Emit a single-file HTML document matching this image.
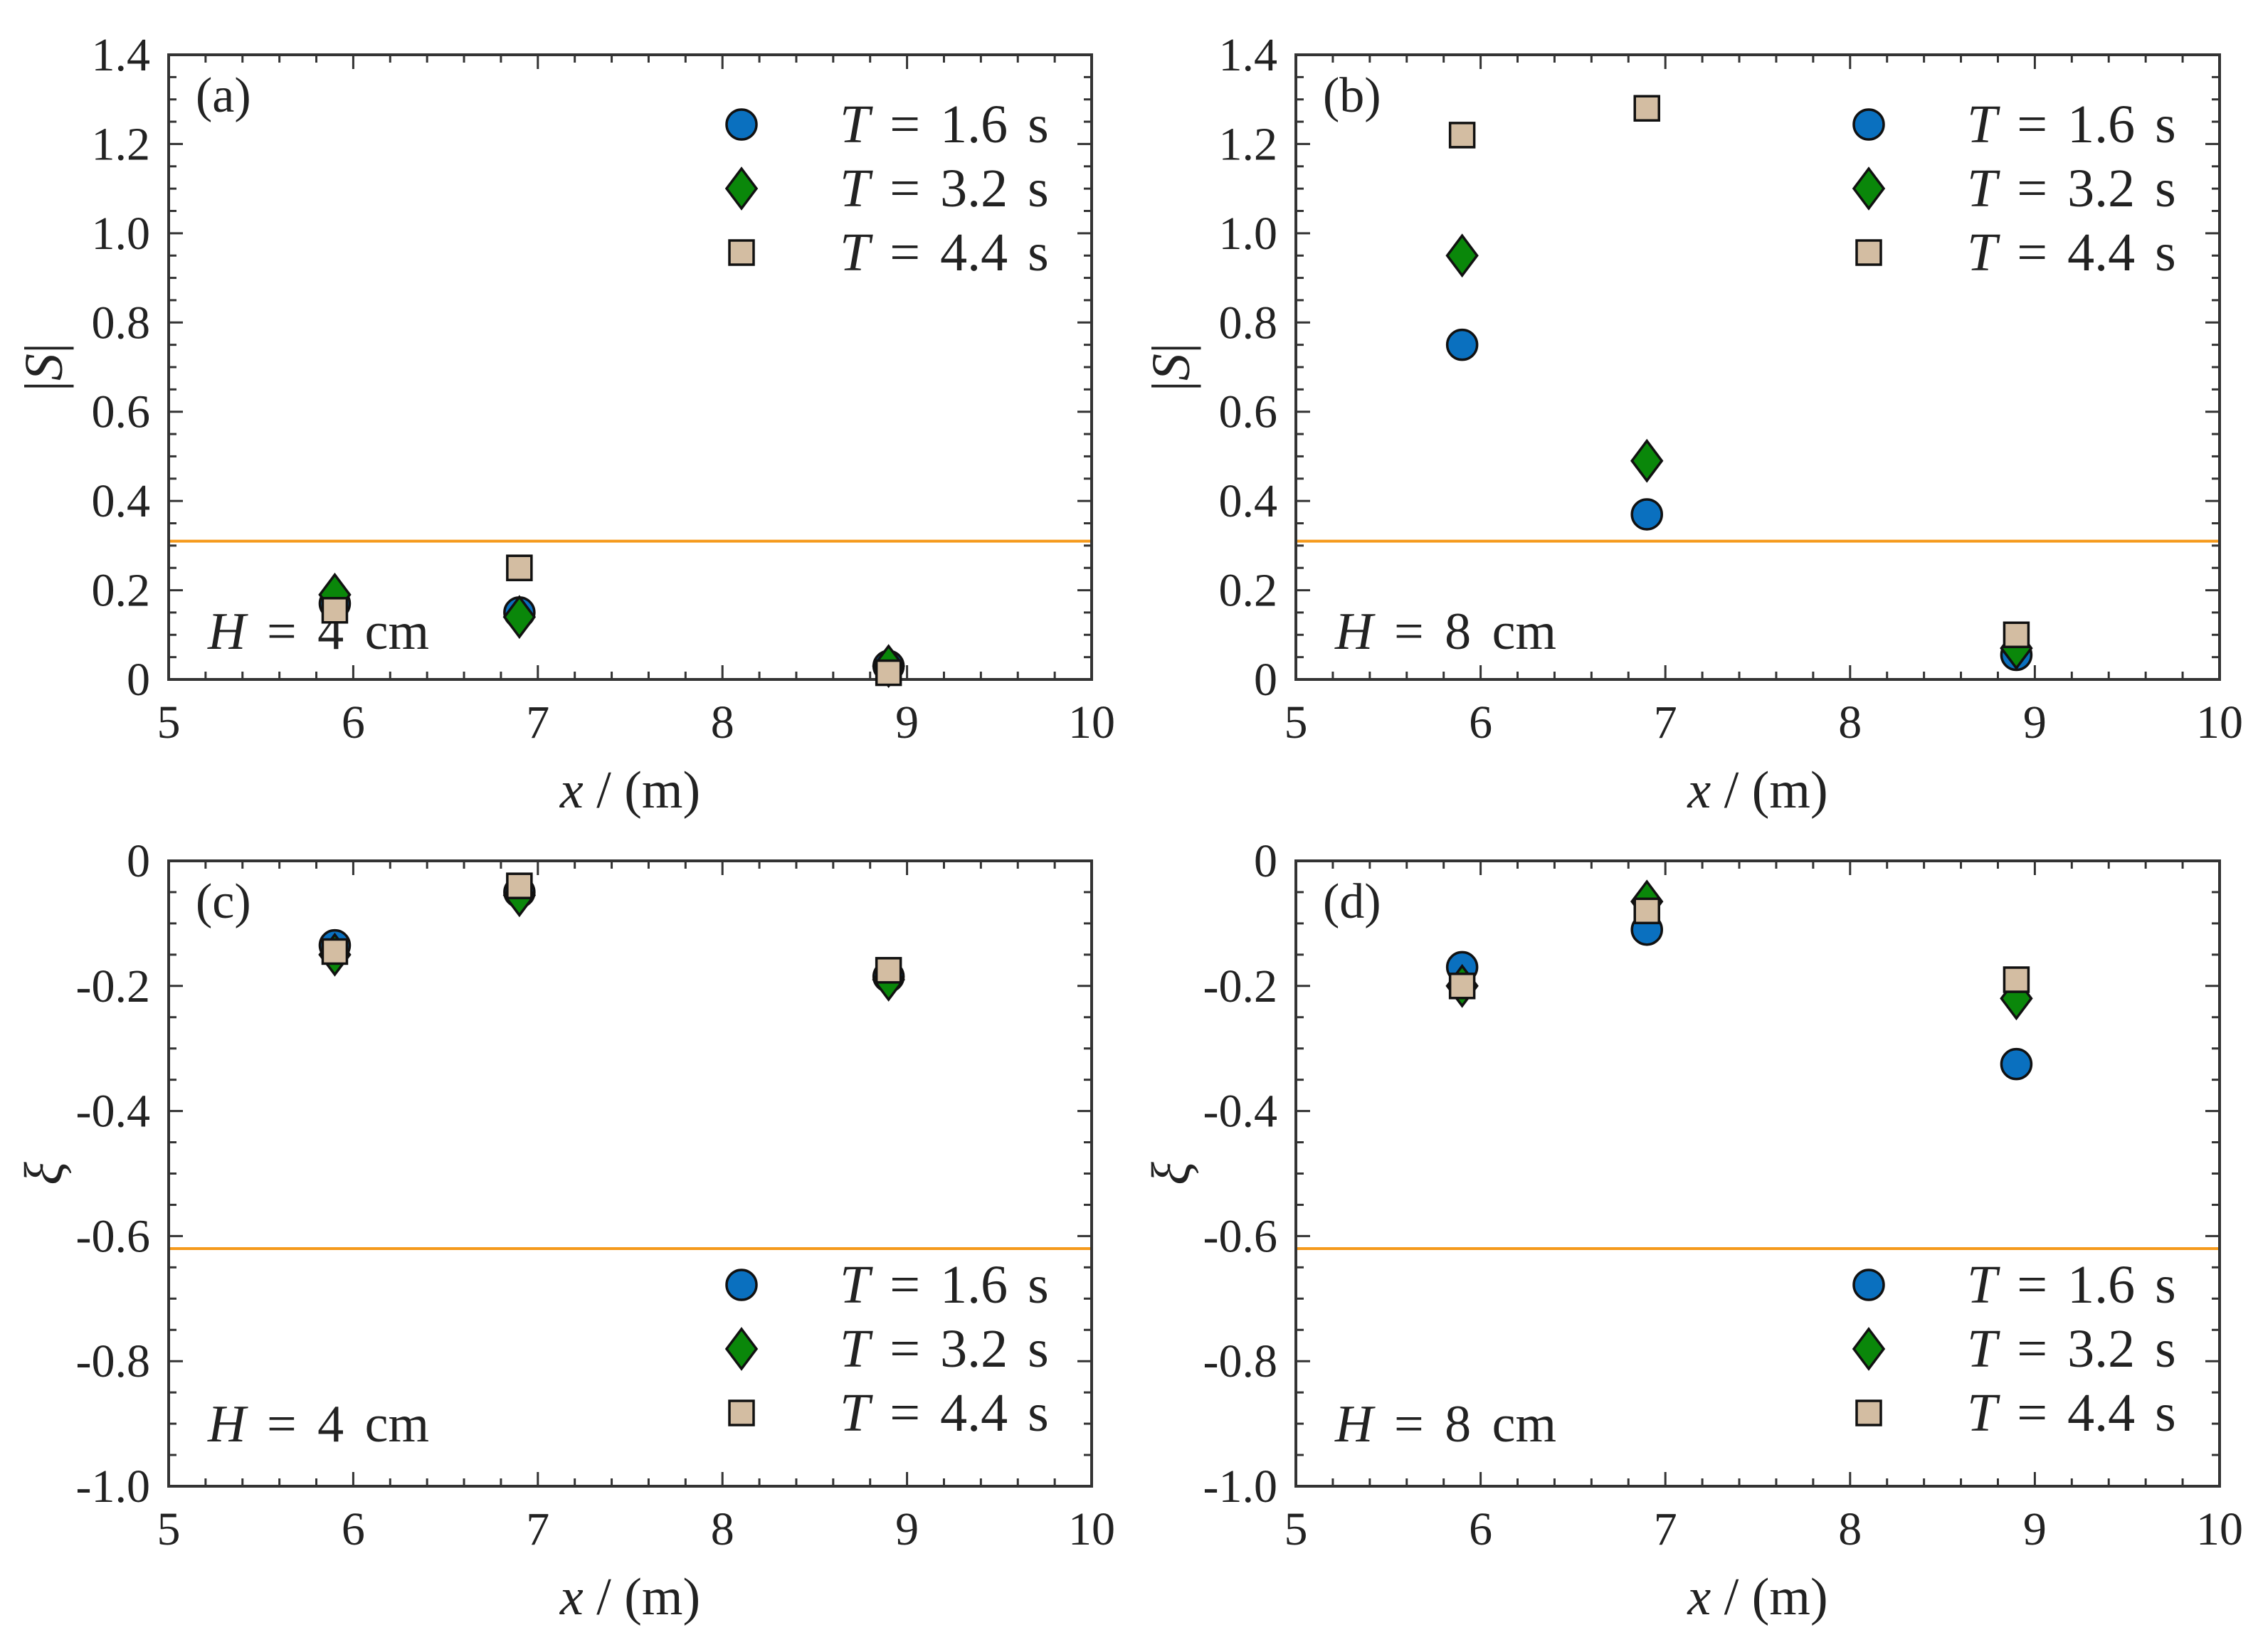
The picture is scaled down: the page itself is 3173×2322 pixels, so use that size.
<!DOCTYPE html>
<html><head><meta charset="utf-8"><style>
html,body{margin:0;padding:0;background:#fff}
svg{display:block}
text{font-family:"Liberation Serif","DejaVu Serif",serif;fill:#222}
</style></head><body>
<svg id="fig" width="3173" height="2322" viewBox="0 0 3173 2322" xmlns="http://www.w3.org/2000/svg"></svg>
<script>
const xs = [5.9, 6.9, 8.9];
const seriesNames = ['T = 1.6 s','T = 3.2 s','T = 4.4 s'];
const aT16 = [0.17, 0.15, 0.03];
const aT32 = [0.19, 0.14, 0.03];
const aT44 = [0.155, 0.25, 0.015];
const bT16 = [0.75, 0.37, 0.055];
const bT32 = [0.95, 0.49, 0.07];
const bT44 = [1.22, 1.28, 0.10];
const cT16 = [-0.135, -0.05, -0.185];
const cT32 = [-0.15, -0.055, -0.19];
const cT44 = [-0.145, -0.04, -0.175];
const dT16 = [-0.17, -0.11, -0.325];
const dT32 = [-0.2, -0.065, -0.22];
const dT44 = [-0.2, -0.08, -0.19];
const xTicks = [5,6,7,8,9,10];
const yTicksS = [0,0.2,0.4,0.6,0.8,1.0,1.2,1.4];
const yTickLabelsS = ['0','0.2','0.4','0.6','0.8','1.0','1.2','1.4'];
const yTicksXi = [0,-0.2,-0.4,-0.6,-0.8,-1.0];
const yTickLabelsXi = ['0','-0.2','-0.4','-0.6','-0.8','-1.0'];
const thrS = 0.31;
const thrXi = -0.62;

const NS='http://www.w3.org/2000/svg';
const svg=document.getElementById('fig');
function mk(tag,attrs,parent){const e=document.createElementNS(NS,tag);for(const k in attrs)e.setAttribute(k,attrs[k]);(parent||svg).appendChild(e);return e;}
const colors=['#0a70bf','#0a870a','#d3bda2'];

function panel(cfg){
  const g=mk('g',{});
  
  
  const L=cfg.L,R=cfg.R,T=cfg.T,B=cfg.B;
  const sx=v=>L+(v-5)/5*(R-L);
  const sy=v=>B-(v-cfg.ymin)/(cfg.ymax-cfg.ymin)*(B-T);
  for(let v=5;v<=10.001;v+=0.2){const x=sx(v);const maj=Math.abs(v-Math.round(v))<1e-6;const len=maj?20:11;
    mk('line',{x1:x,y1:B,x2:x,y2:B-len,stroke:'#333','stroke-width':3},g);
    mk('line',{x1:x,y1:T,x2:x,y2:T+len,stroke:'#333','stroke-width':3},g);}
  for(let v=cfg.ymin;v<=cfg.ymax+1e-6;v+=0.05){const y=sy(v);const maj=Math.abs(v/0.2-Math.round(v/0.2))<1e-4;const len=maj?20:11;
    mk('line',{x1:L,y1:y,x2:L+len,y2:y,stroke:'#333','stroke-width':3},g);
    mk('line',{x1:R,y1:y,x2:R-len,y2:y,stroke:'#333','stroke-width':3},g);}
  const th=mk('line',{x1:L,y1:sy(cfg.thr),x2:R,y2:sy(cfg.thr),stroke:'#f59a1c','stroke-width':4},g);
  
  
  mk('rect',{x:L,y:T,width:R-L,height:B-T,fill:'none',stroke:'#333','stroke-width':4},g);
  xTicks.forEach(v=>{const t=mk('text',{x:sx(v),y:B+82,'font-size':66,'text-anchor':'middle'},g);t.textContent=v;
    });
  cfg.yt.forEach((v,i)=>{const t=mk('text',{x:L-26,y:sy(v)+22,'font-size':66,'text-anchor':'end'},g);t.textContent=cfg.yl[i];
    });
  const xt=mk('text',{x:(L+R)/2,y:B+180,'font-size':74,'text-anchor':'middle'},g);
  xt.innerHTML='<tspan font-style="italic">x</tspan> / (m)';
  
  const yt=mk('text',{x:0,y:0,'font-size':76,'text-anchor':'middle',transform:`translate(${L-150},${(T+B)/2}) rotate(-90)`},g);
  yt.innerHTML=cfg.ylab;
  
  const pl=mk('text',{x:L+38,y:T+80,'font-size':70},g);pl.textContent='('+cfg.id+')';
  
  const hl=mk('text',{x:L+55,y:cfg.hY,'font-size':74,'word-spacing':'11'},g);
  hl.innerHTML='<tspan font-style="italic">H</tspan> = '+cfg.H+' cm';
  
  cfg.data.forEach((arr,si)=>{
    const sg=mk('g',{},g);
    
    
    arr.forEach((v,i)=>{const m=marker(si,sx(xs[i]),sy(v),sg);
      
      });
  });
  const lg=mk('g',{},g);
  
  
  [0,1,2].forEach(si=>{const y=cfg.legY+si*90;
    const m=marker(si,L+805,y,lg);
    
    
    const t=mk('text',{x:L+943,y:y+25,'font-size':76,'word-spacing':'9'},lg);
    t.innerHTML='<tspan font-style="italic">T</tspan> = '+['1.6','3.2','4.4'][si]+' s';
    
    
  });
}
function marker(si,x,y,p){
  if(si===0) return mk('circle',{cx:x,cy:y,r:21,fill:colors[0],stroke:'#111','stroke-width':3.5},p);
  if(si===1) return mk('polygon',{points:`${x},${y-28} ${x+21},${y} ${x},${y+28} ${x-21},${y}`,fill:colors[1],stroke:'#111','stroke-width':3.5},p);
  return mk('rect',{x:x-17,y:y-17,width:34,height:34,fill:colors[2],stroke:'#111','stroke-width':3.5},p);
}
const Sl='|<tspan font-style="italic">S</tspan>|';
const Xl='<tspan font-style="italic">ξ</tspan>';
panel({id:'a',L:237,R:1534,T:77,B:955,ymin:0,ymax:1.4,yt:yTicksS,yl:yTickLabelsS,thr:thrS,ylab:Sl,data:[aT16,aT32,aT44],legY:175,hY:912,H:4});
panel({id:'b',L:1821,R:3119,T:77,B:955,ymin:0,ymax:1.4,yt:yTicksS,yl:yTickLabelsS,thr:thrS,ylab:Sl,data:[bT16,bT32,bT44],legY:175,hY:912,H:8});
panel({id:'c',L:237,R:1534,T:1210,B:2089,ymin:-1,ymax:0,yt:yTicksXi,yl:yTickLabelsXi,thr:thrXi,ylab:Xl,data:[cT16,cT32,cT44],legY:1806,hY:2026,H:4});
panel({id:'d',L:1821,R:3119,T:1210,B:2089,ymin:-1,ymax:0,yt:yTicksXi,yl:yTickLabelsXi,thr:thrXi,ylab:Xl,data:[dT16,dT32,dT44],legY:1806,hY:2026,H:8});
</script>
</body></html>
